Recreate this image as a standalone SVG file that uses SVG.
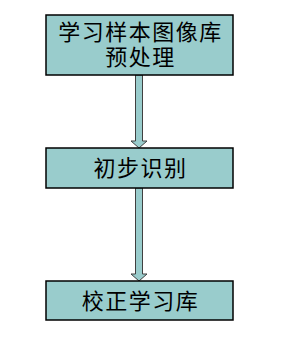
<svg xmlns="http://www.w3.org/2000/svg" width="303" height="343" viewBox="0 0 303 343">
<style>
.box{fill:#99CCCC;stroke:#000;stroke-width:1.5}
.t{font-family:"Liberation Sans","Noto Sans CJK SC",sans-serif;font-size:22px;letter-spacing:1.5px;fill:#000;text-anchor:middle}
.arr{fill:#99CCCC;stroke:#404040;stroke-width:1}
</style>
<rect width="303" height="343" fill="#fff"/>
<g id="connectors">
<path class="arr" d="M135.5,75 L142.5,75 L142.5,141 L147,141 L139,148 L131,141 L135.5,141 Z"/>
<path class="arr" d="M135.5,188 L142.5,188 L142.5,274 L147,274 L139,281 L131,274 L135.5,274 Z"/>
</g>
<g id="node1">
<rect class="box" x="46" y="15" width="187" height="60"/>
<text class="t" x="140.5" y="40">学习样本图像库</text>
<text class="t" x="140.5" y="65">预处理</text>
</g>
<g id="node2">
<rect class="box" x="46" y="148" width="187" height="40"/>
<text class="t" x="140.5" y="176">初步识别</text>
</g>
<g id="node3">
<rect class="box" x="46" y="281" width="187" height="39"/>
<text class="t" x="140.5" y="309">校正学习库</text>
</g>
</svg>
